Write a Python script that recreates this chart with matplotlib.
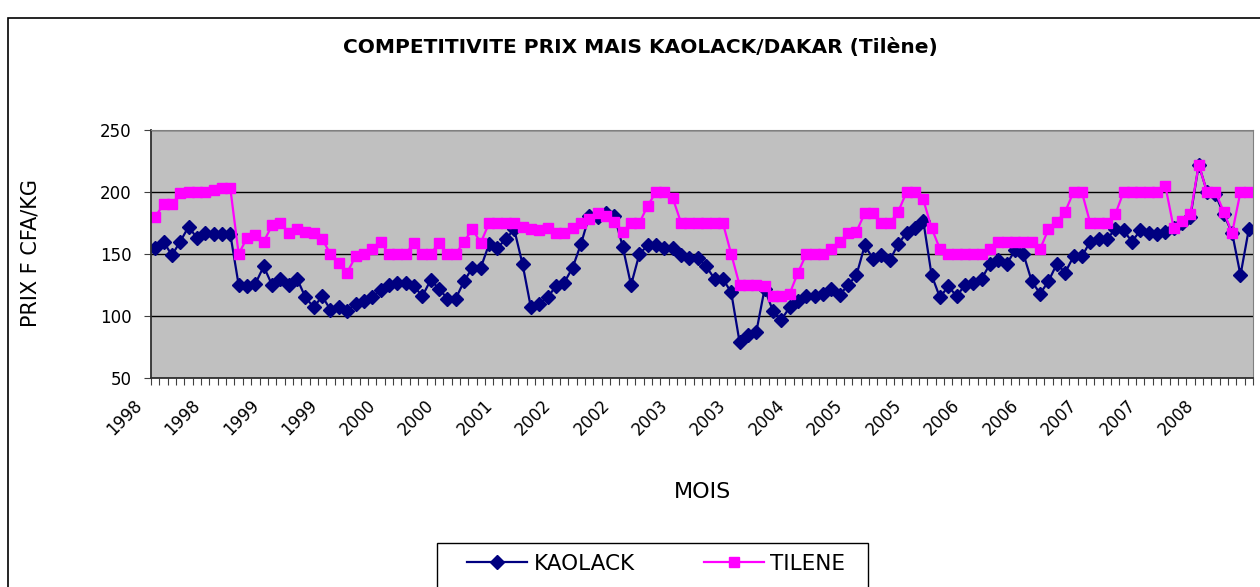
import numpy as np
import matplotlib.pyplot as plt
import matplotlib.transforms as mtransforms
from matplotlib.patches import Rectangle

# monthly maize prices, Jan 1998 - Dec 2008 (F CFA/kg)
kaolack = [155, 160, 149, 160, 172, 163, 167, 166, 166, 166,
           125, 124, 126, 140, 125, 130, 125, 130, 115, 107,
           116, 105, 107, 104, 110, 112, 115, 121, 125, 127,
           127, 124, 116, 129, 122, 114, 114, 128, 139, 139,
           158, 155, 162, 170, 142, 107, 110, 115, 124, 127,
           139, 158, 181, 180, 183, 181, 156, 125, 150, 157,
           157, 155, 155, 149, 147, 147, 140, 130, 130, 119,
           79, 85, 87, 122, 104, 97, 107, 112, 116, 116,
           118, 122, 117, 125, 133, 157, 146, 149, 145, 158,
           167, 171, 177, 133, 115, 124, 116, 125, 127, 130,
           142, 145, 142, 153, 150, 128, 118, 128, 142, 135,
           148, 148, 160, 162, 162, 170, 169, 160, 169, 167,
           166, 168, 171, 175, 180, 222, 200, 198, 182, 167,
           133, 170]
tilene = [180, 190, 190, 199, 200, 200, 200, 202, 203, 203,
          150, 163, 165, 160, 173, 175, 167, 170, 168, 167,
          162, 150, 143, 135, 148, 150, 154, 160, 150, 150,
          150, 159, 150, 150, 159, 150, 150, 160, 170, 159,
          175, 175, 175, 175, 172, 170, 169, 171, 167, 167,
          171, 175, 178, 183, 181, 176, 168, 175, 175, 189,
          200, 200, 195, 175, 175, 175, 175, 175, 175, 150,
          125, 125, 125, 124, 116, 116, 118, 135, 150, 150,
          150, 154, 160, 167, 168, 183, 183, 175, 175, 184,
          200, 200, 194, 171, 154, 150, 150, 150, 150, 150,
          154, 160, 160, 160, 160, 160, 154, 170, 176, 184,
          200, 200, 175, 175, 175, 182, 200, 200, 200, 200,
          200, 205, 171, 177, 182, 222, 200, 200, 184, 167,
          200, 200]
label_years = ['1998', '1998', '1999', '1999', '2000', '2000', '2001',
               '2002', '2002', '2003', '2003', '2004', '2005', '2005',
               '2006', '2006', '2007', '2007', '2008']
label_step = 7
yticks = [50, 100, 150, 200, 250]

W, H = 1260, 587
months = np.arange(len(kaolack))

fig = plt.figure(figsize=(W / 100, H / 100), dpi=100)

# outer chart border
fig.patches.append(Rectangle((8 / W, -0.2), 1.3, 1.2 - 18 / H, transform=fig.transFigure,
                             fill=False, ec='black', lw=1.2))

ax = fig.add_axes([151 / W, 1 - 378 / H, 1102 / W, 248 / H])
ax.set_facecolor('#c0c0c0')
ax.plot(months, kaolack, color='#000080', lw=1.6, marker='D', ms=7, label='KAOLACK')
ax.plot(months, tilene, color='#ff00ff', lw=1.6, marker='s', ms=7.5, label='TILENE')

ax.set_xlim(-0.5, len(months) - 0.5)
ax.set_ylim(50, 250)
ax.set_yticks(yticks)
ax.tick_params(axis='y', labelsize=12, length=5, color='#404040', pad=9)
ax.grid(axis='y', color='black', lw=1)
ax.set_axisbelow(True)

ax.set_xticks(np.arange(-0.5, len(months), 1))
ax.set_xticklabels([])
ax.tick_params(axis='x', which='major', length=5, color='#404040')
ax.set_xticks(months[::label_step], labels=label_years, minor=True)
ax.tick_params(axis='x', which='minor', length=0, pad=18, labelsize=12)
shift = mtransforms.ScaledTranslation(-16 / 100, 0, fig.dpi_scale_trans)
for lbl in ax.get_xticklabels(minor=True):
    lbl.set_rotation(45)
    lbl.set_ha('right')
    lbl.set_va('center')
    lbl.set_rotation_mode('anchor')
    lbl.set_transform(lbl.get_transform() + shift)

for s in ['top', 'right']:
    ax.spines[s].set_color('#808080')
for s in ['left', 'bottom']:
    ax.spines[s].set_color('#303030')
    ax.spines[s].set_linewidth(1.3)

fig.text(640 / W, 1 - 47 / H, 'COMPETITIVITE PRIX MAIS KAOLACK/DAKAR (Tilène)',
         fontsize=14.5, fontweight='bold', ha='center', va='center')
fig.text(31 / W, 1 - 253 / H, 'PRIX F CFA/KG', rotation=90, fontsize=15,
         ha='center', va='center')
fig.text(702 / W, 1 - 492 / H, 'MOIS', fontsize=16, ha='center', va='center')

# legend box runs off the bottom of the picture
fig.patches.append(Rectangle((437 / W, -0.1), (868 - 437) / W, 0.1 + 1 - 543 / H,
                             transform=fig.transFigure, fill=False, ec='black', lw=1))
fig.legend(loc='center', bbox_to_anchor=(656 / W, 1 - 564 / H), ncol=2, frameon=False,
           fontsize=15.5, handlelength=2.8, columnspacing=3.2, handletextpad=0.3)

fig.savefig('out.png', dpi=100)
